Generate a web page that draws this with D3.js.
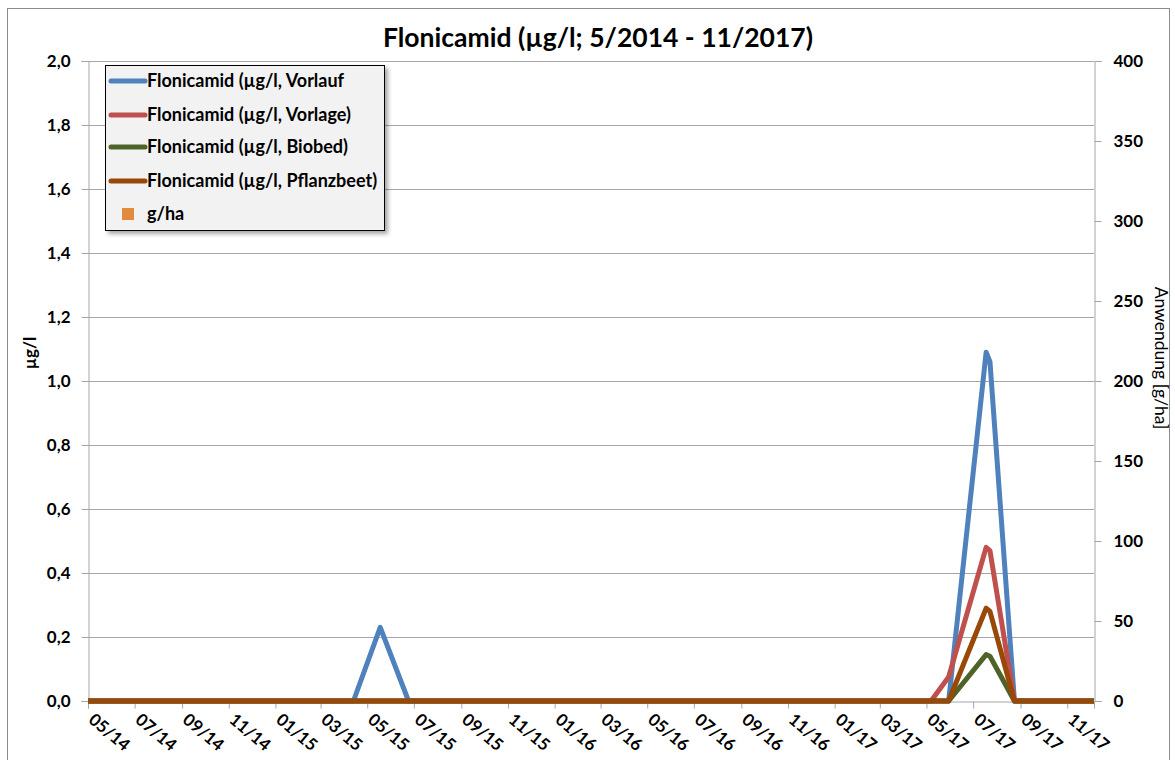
<!DOCTYPE html>
<html><head><meta charset="utf-8">
<script src="https://cdn.jsdelivr.net/npm/d3@7"></script>
<style>
html,body{margin:0;padding:0;background:#fff;}
svg{display:block;}
text{font-family:Lato,"Open Sans",sans-serif;}
</style></head>
<body>
<svg id="chart" width="1175" height="760"></svg>
<script>
// ---- data ----
const dates = ["2014-05-01","2015-04-13","2015-05-18","2015-06-24","2017-05-07","2017-05-30","2017-07-18","2017-07-23","2017-08-24","2017-12-06"];
const vorlauf    = [0, 0, 0.23, 0, 0, 0,     1.09, 1.06, 0, 0];
const vorlage    = [0, 0, 0,    0, 0, 0.075, 0.48, 0.47, 0, 0];
const biobed     = [0, 0, 0,    0, 0, 0,     0.145,0.14, 0, 0];
const pflanzbeet = [0, 0, 0,    0, 0, 0,     0.29, 0.28, 0, 0];
const gha = [];
const seriesNames = ["Flonicamid (µg/l, Vorlauf","Flonicamid (µg/l, Vorlage)","Flonicamid (µg/l, Biobed)","Flonicamid (µg/l, Pflanzbeet)","g/ha"];
const xTickLabels = ["05/14","07/14","09/14","11/14","01/15","03/15","05/15","07/15","09/15","11/15","01/16","03/16","05/16","07/16","09/16","11/16","01/17","03/17","05/17","07/17","09/17","11/17"];
const yLeftTicks = [0,0.2,0.4,0.6,0.8,1.0,1.2,1.4,1.6,1.8,2.0];
const yRightTicks = [0,50,100,150,200,250,300,350,400];
const xDomain = ["2014-05-01","2017-12-06"];
const titleText = "Flonicamid (µg/l; 5/2014 - 11/2017)";

// ---- layout ----
const svg = d3.select("#chart");
const L = 88, R = 1094, T = 61, B = 701;
const parse = d3.timeParse("%Y-%m-%d");
const parseTick = d3.timeParse("%m/%y");
const x = d3.scaleTime().domain(xDomain.map(parse)).range([L, R]);
const y = d3.scaleLinear().domain([0, 2]).range([B, T]);
const y2 = d3.scaleLinear().domain([0, 400]).range([B, T]);
const fmt = d3.format(".1f");

// outer border
svg.append("rect").attr("x",7.5).attr("y",8.5).attr("width",1162).attr("height",800)
  .attr("fill","none").attr("stroke","#8c8c8c").attr("stroke-width",1);

// gridlines
svg.append("g").selectAll("line").data(yLeftTicks.filter(d=>d>0)).join("line")
  .attr("x1",L).attr("x2",R).attr("y1",d=>Math.round(y(d))+0.5).attr("y2",d=>Math.round(y(d))+0.5)
  .attr("stroke","#a6a6a6").attr("stroke-width",1);

// left axis
const gl = svg.append("g").attr("transform",`translate(${L+0.5},0)`)
  .call(d3.axisLeft(y).tickValues(yLeftTicks).tickFormat(d=>fmt(d).replace(".",",")).tickSize(7).tickPadding(11));
gl.select(".domain").attr("stroke","#a6a6a6");
gl.selectAll(".tick line").attr("stroke","#a6a6a6");
gl.selectAll(".tick text").attr("font-size",17).attr("font-weight","bold").attr("fill","#000").style("font-family","Lato");

// right axis
const gr = svg.append("g").attr("transform",`translate(${R+0.5},0)`)
  .call(d3.axisRight(y2).tickValues(yRightTicks).tickSize(7).tickPadding(12));
gr.select(".domain").attr("stroke","#a6a6a6");
gr.selectAll(".tick line").attr("stroke","#a6a6a6");
gr.selectAll(".tick text").attr("font-size",17).attr("font-weight","bold").attr("fill","#000").style("font-family","Lato");

// bottom axis
const gb = svg.append("g").attr("transform",`translate(0,${B+0.5})`)
  .call(d3.axisBottom(x).tickValues(xTickLabels.map(parseTick)).tickFormat(d3.timeFormat("%m/%y")).tickSize(7).tickPadding(0));
gb.select(".domain").attr("stroke","#a6a6a6");
gb.selectAll(".tick line").attr("stroke","#a6a6a6");
gb.selectAll(".tick text").attr("font-size",17).attr("font-weight","bold").attr("fill","#000")
  .style("font-family","Lato")
  .attr("text-anchor","start").attr("y",0).attr("dy",0)
  .attr("transform","translate(-1,20) rotate(40)");

// series
const colors = ["#4F81BD","#C0504D","#4F6228","#984807"];
const series = [vorlauf, vorlage, biobed, pflanzbeet];
const line = d3.line().x(d=>x(d[0])).y(d=>y(d[1]));
series.forEach((vals,i)=>{
  const pts = dates.map((d,j)=>[parse(d), vals[j]]);
  svg.append("path").attr("d",line(pts)).attr("fill","none")
    .attr("stroke",colors[i]).attr("stroke-width",5).attr("stroke-linejoin","round").attr("stroke-linecap","butt");
});

// title
svg.append("text").attr("x",598).attr("y",47).attr("text-anchor","middle")
  .attr("font-size",26.5).attr("font-weight","bold").text(titleText);

// axis titles
svg.append("text").attr("transform","translate(36,353) rotate(-90)").attr("text-anchor","middle")
  .attr("font-size",17).attr("font-weight","bold").text("µg/l");
svg.append("text").attr("transform","translate(1155,358) rotate(90)").attr("text-anchor","middle")
  .attr("font-size",17.5).text("Anwendung [g/ha]");

// legend
const defs = svg.append("defs");
const f = defs.append("filter").attr("id","sh").attr("x","-10%").attr("y","-10%").attr("width","130%").attr("height","130%");
f.append("feDropShadow").attr("dx",3).attr("dy",3).attr("stdDeviation",2).attr("flood-color","#000").attr("flood-opacity",0.35);
const lg = svg.append("g");
lg.append("rect").attr("x",105.5).attr("y",65.5).attr("width",279).attr("height",165)
  .attr("fill","#f2f2f2").attr("stroke","#000").attr("stroke-width",1).attr("filter","url(#sh)");
const legendY = [81,115,147,181,214];
seriesNames.forEach((n,i)=>{
  if(i<4){
    lg.append("line").attr("x1",111).attr("x2",145).attr("y1",legendY[i]).attr("y2",legendY[i])
      .attr("stroke",colors[i]).attr("stroke-width",5).attr("stroke-linecap","round");
  } else {
    lg.append("rect").attr("x",122).attr("y",legendY[i]-6).attr("width",12).attr("height",12).attr("fill","#E38A3F");
  }
  lg.append("text").attr("x",147).attr("y",legendY[i]+6).attr("font-size",18).attr("font-weight","bold").text(n);
});
</script>
</body></html>
